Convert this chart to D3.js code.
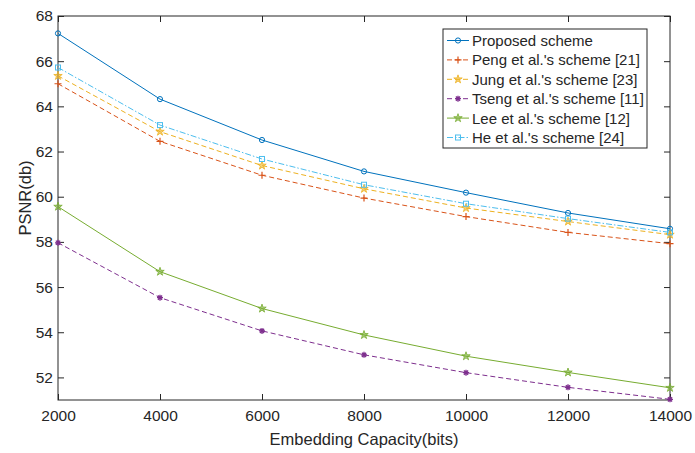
<!DOCTYPE html>
<html>
<head>
<meta charset="utf-8">
<script src="https://cdn.jsdelivr.net/npm/d3@7"></script>
<style>
body { margin: 0; background: #fff; }
text { font-family: Arial, "Liberation Sans", sans-serif; fill: #262626; }
</style>
</head>
<body>
<script>
var width = 695,
    height = 453,
    marginLeft = 58,
    marginRight = 25,
    marginTop = 16,
    marginBottom = 53
;

// data
var capacity = [2000, 4000, 6000, 8000, 10000, 12000, 14000];
var proposed = [67.23, 64.32, 62.51, 61.12, 60.18, 59.28, 58.58];
var peng     = [65.00, 62.45, 60.95, 59.94, 59.12, 58.42, 57.92];
var jung     = [65.35, 62.88, 61.38, 60.35, 59.50, 58.90, 58.32];
var tseng    = [57.96, 55.53, 54.06, 53.00, 52.21, 51.56, 51.03];
var lee      = [59.56, 56.68, 55.05, 53.88, 52.94, 52.22, 51.54];
var he       = [65.72, 63.17, 61.67, 60.53, 59.69, 59.03, 58.42];
var xTicks = [2000, 4000, 6000, 8000, 10000, 12000, 14000];
var yTicks = [52, 54, 56, 58, 60, 62, 64, 66, 68];

var series = [
    {name: "Proposed scheme", values: proposed, color: "#0072BD", dash: null, marker: "circle"},
    {name: "Peng et al.'s scheme [21]", values: peng, color: "#D95319", dash: "5,3", marker: "plus"},
    {name: "Jung et al.'s scheme [23]", values: jung, color: "#EDB120", dash: "5,3", marker: "star"},
    {name: "Tseng et al.'s scheme [11]", values: tseng, color: "#7E2F8E", dash: "5,3", marker: "asterisk"},
    {name: "Lee et al.'s scheme [12]", values: lee, color: "#77AC30", dash: null, marker: "star"},
    {name: "He et al.'s scheme [24]", values: he, color: "#4DBEEE", dash: "6,2,1.5,2", marker: "square"}
];

var svg = d3.select("body").append("svg")
    .attr("width", width)
    .attr("height", height)
;

var x = d3.scaleLinear()
    .domain([2000, 14000])
    .range([marginLeft, width - marginRight])
;
var y = d3.scaleLinear()
    .domain([51, 68])
    .range([height - marginBottom, marginTop])
;

// axes (MATLAB style, inward ticks, box on)
var tickLen = 6;
svg.append("g")
    .attr("transform", `translate(0,${height - marginBottom})`)
    .call(d3.axisBottom(x).tickValues(xTicks).tickSize(-tickLen).tickPadding(10).tickFormat(d3.format("d")))
    .call(g => g.select(".domain").remove())
;
svg.append("g")
    .attr("transform", `translate(0,${marginTop})`)
    .call(d3.axisTop(x).tickValues(xTicks).tickSize(-tickLen).tickFormat(""))
    .call(g => g.select(".domain").remove())
;
svg.append("g")
    .attr("transform", `translate(${marginLeft},0)`)
    .call(d3.axisLeft(y).tickValues(yTicks).tickSize(-tickLen).tickPadding(5))
    .call(g => g.select(".domain").remove())
;
svg.append("g")
    .attr("transform", `translate(${width - marginRight},0)`)
    .call(d3.axisRight(y).tickValues(yTicks).tickSize(-tickLen).tickFormat(""))
    .call(g => g.select(".domain").remove())
;
svg.selectAll(".tick line").attr("stroke", "#262626");
svg.selectAll(".tick text")
    .attr("font-size", 15.5)
    .attr("font-family", "Arial, 'Liberation Sans', sans-serif")
    .attr("fill", "#262626")
;

svg.append("rect")
    .attr("x", marginLeft)
    .attr("y", marginTop)
    .attr("width", width - marginLeft - marginRight)
    .attr("height", height - marginTop - marginBottom)
    .attr("fill", "none")
    .attr("stroke", "#262626")
    .attr("stroke-width", 1)
;

// axis labels
svg.append("text")
    .attr("x", (marginLeft + width - marginRight) / 2)
    .attr("y", 445)
    .attr("text-anchor", "middle")
    .attr("font-size", 16.5)
    .text("Embedding Capacity(bits)")
;
svg.append("text")
    .attr("transform", "translate(31,198) rotate(-90)")
    .attr("text-anchor", "middle")
    .attr("font-size", 16.5)
    .text("PSNR(db)")
;

function drawMarker(g, type, cx, cy, color) {
    if (type == "circle") {
        g.append("circle").attr("cx", cx).attr("cy", cy).attr("r", 2.6)
            .attr("fill", "none").attr("stroke", color).attr("stroke-width", 1);
    } else if (type == "square") {
        g.append("rect").attr("x", cx - 2.5).attr("y", cy - 2.5).attr("width", 5).attr("height", 5)
            .attr("fill", "none").attr("stroke", color).attr("stroke-width", 1);
    } else if (type == "plus") {
        g.append("path").attr("d", `M${cx - 3.5},${cy}H${cx + 3.5}M${cx},${cy - 3.5}V${cy + 3.5}`)
            .attr("stroke", color).attr("stroke-width", 1.2);
    } else if (type == "star") {
        g.append("path").attr("d", d3.symbol(d3.symbolStar, 22)())
            .attr("transform", `translate(${cx},${cy})`)
            .attr("fill", color).attr("fill-opacity", 0.6).attr("stroke", color).attr("stroke-width", 0.8);
    } else if (type == "asterisk") {
        var r = 3;
        var d = "";
        for (var k = 0; k < 4; k++) {
            var a = k * Math.PI / 4;
            d += `M${cx - r * Math.cos(a)},${cy - r * Math.sin(a)}L${cx + r * Math.cos(a)},${cy + r * Math.sin(a)}`;
        }
        g.append("path").attr("d", d).attr("stroke", color).attr("stroke-width", 1.3);
    }
}

var line = d3.line()
    .x((d, i) => x(capacity[i]))
    .y(d => y(d))
;

series.forEach(function(s) {
    var g = svg.append("g");
    g.append("path")
        .attr("d", line(s.values))
        .attr("fill", "none")
        .attr("stroke", s.color)
        .attr("stroke-width", 1)
        .attr("stroke-dasharray", s.dash)
    ;
    s.values.forEach(function(v, i) {
        drawMarker(g, s.marker, x(capacity[i]), y(v), s.color);
    });
});

// legend
var legX = 443, legY = 29, legW = 204, legH = 119, rowH = 19.4;
svg.append("rect")
    .attr("x", legX)
    .attr("y", legY)
    .attr("width", legW)
    .attr("height", legH)
    .attr("fill", "#fff")
    .attr("stroke", "#262626")
    .attr("stroke-width", 1)
;
series.forEach(function(s, i) {
    var cy = legY + 11.5 + i * rowH;
    var g = svg.append("g");
    g.append("line")
        .attr("x1", legX + 4).attr("x2", legX + 26)
        .attr("y1", cy).attr("y2", cy)
        .attr("stroke", s.color)
        .attr("stroke-width", 1)
        .attr("stroke-dasharray", s.dash)
    ;
    drawMarker(g, s.marker, legX + 15, cy, s.color);
    g.append("text")
        .attr("x", legX + 29)
        .attr("y", cy + 5.5)
        .attr("font-size", 15)
        .text(s.name)
    ;
});
</script>
</body>
</html>
